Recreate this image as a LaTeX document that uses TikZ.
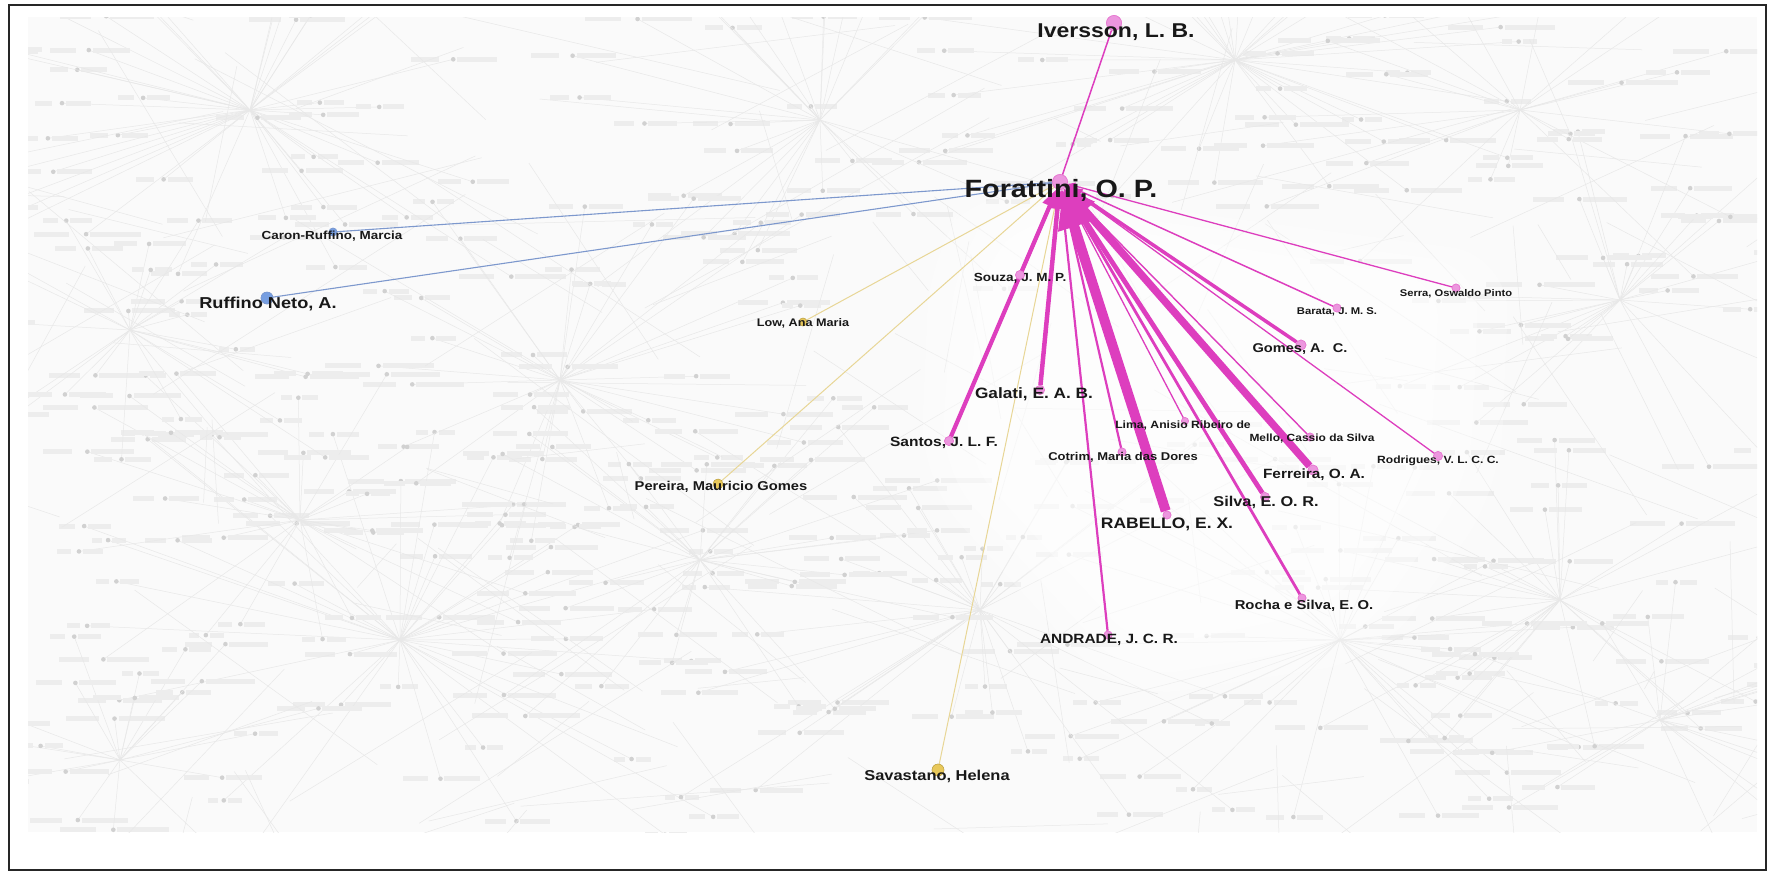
\documentclass[tikz,border=0pt]{standalone}
\usepackage{fontspec}
\newfontfamily\labfont[FakeStretch=1.15]{Liberation Sans}
\usetikzlibrary{arrows.meta}
\definecolor{pinkedge}{RGB}{221,62,190}
\definecolor{pinknode}{RGB}{236,150,222}
\definecolor{bluenode}{RGB}{118,158,225}
\definecolor{blueedge}{RGB}{125,152,205}
\definecolor{yelnode}{RGB}{232,200,90}
\definecolor{yeledge}{RGB}{232,214,150}
\definecolor{labtext}{RGB}{24,24,24}
\begin{document}
\begin{tikzpicture}[x=1pt,y=-1pt,
  vert/.style={circle,inner sep=0pt,minimum size=#1},
  pnode/.style={vert=#1,fill=pinknode,draw=pinkedge!70,line width=0.6pt},
  bnode/.style={vert=#1,fill=bluenode,draw=blueedge,line width=0.5pt},
  ynode/.style={vert=#1,fill=yelnode,draw=yelnode!80!black,line width=0.4pt},
  lab/.style={font=\labfont\bfseries\fontsize{#1}{#1}\selectfont,text=labtext,
    inner sep=0pt,text height=0.72em,text depth=0pt},
  pedge/.style={draw=pinkedge,line width=#1,-{Triangle[length=3pt 3.6,width=3pt 2.8]}},
  pline/.style={draw=pinkedge,line width=#1},
  bedge/.style={draw=blueedge,line width=1.1pt},
  yedge/.style={draw=yeledge,line width=1pt},
  bgedge/.style={draw=black!9,line width=0.5pt},
  bgdot/.style={fill=black!18},
  bgtext/.style={fill=black!7},
]
\useasboundingbox (0,0) rectangle (1773,873);
\fill[white] (0,0) rectangle (1773,873);

% faded background network
\begin{scope}
  \clip (28,17) rectangle (1757,832);
  \fill[black!2] (28,17) rectangle (1757,832);
  \pgfmathsetseed{11}
  \foreach \hx/\hy/\nn/\hr in {250/110/45/270, 1235/60/45/320, 400/640/40/320,
      820/120/30/260, 1340/640/35/280, 560/380/35/280, 300/520/30/230,
      1620/300/28/260, 980/610/35/320, 1560/600/28/260, 700/560/30/260,
      1520/110/22/260, 130/330/25/200, 1660/720/20/220, 120/760/20/200} {
    \foreach \k in {1,...,\nn} {
      \pgfmathsetmacro\px{\hx+(rnd-0.5)*2*\hr}
      \pgfmathsetmacro\py{\hy+(rnd-0.5)*1.3*\hr}
      \pgfmathsetmacro\tw{14+rnd*38}
      \draw[bgedge] (\hx,\hy) -- (\px,\py);
      \fill[bgdot] (\px,\py) circle (2.3);
      \fill[bgtext] (\px+4,\py+2.5) rectangle ++(\tw,-5);
      \fill[bgtext] (\px-\tw-2,\py+2.5) rectangle ++(\tw*0.7,-5);
    }
  }
  \foreach \k in {1,...,160} {
    \pgfmathsetmacro\ax{28+rnd*1729}
    \pgfmathsetmacro\ay{17+rnd*815}
    \pgfmathsetmacro\bx{\ax+(rnd-0.5)*700}
    \pgfmathsetmacro\by{\ay+(rnd-0.5)*420}
    \draw[bgedge] (\ax,\ay) -- (\bx,\by);
  }
  % lighter zone around the highlighted fan, built up in soft layers
  \fill[white,opacity=0.25,rounded corners=60pt] (980,185) -- (1510,255) -- (1500,490)
     -- (1380,660) -- (1120,700) -- (920,480) -- (930,250) -- cycle;
  \fill[white,opacity=0.3,rounded corners=50pt] (1000,200) -- (1480,265) -- (1470,480)
     -- (1360,640) -- (1130,680) -- (940,470) -- (955,260) -- cycle;
  \fill[white,opacity=0.35,rounded corners=40pt] (1030,215) -- (1440,280) -- (1430,470)
     -- (1330,610) -- (1140,650) -- (965,460) -- (980,270) -- cycle;
\end{scope}

% highlighted vertices
\node[pnode=15] (forat) at (1060,182) {};
\node[pnode=15] (ivers) at (1114,23) {};
\node[bnode=8]  (caron) at (333,232) {};
\node[bnode=12] (ruffn) at (267,298) {};
\node[ynode=8]  (lowam) at (803,322) {};
\node[ynode=10] (perei) at (718,484) {};
\node[ynode=12] (savas) at (938,770) {};
\node[pnode=9]  (souza) at (1020,275) {};
\node[pnode=8]  (serra) at (1456,288) {};
\node[pnode=8]  (barat) at (1337,308) {};
\node[pnode=10] (gomes) at (1301,345) {};
\node[pnode=9]  (galat) at (1040,390) {};
\node[pnode=7]  (limaa) at (1185,421) {};
\node[pnode=8]  (mello) at (1310,437) {};
\node[pnode=9]  (santo) at (949,441) {};
\node[pnode=8]  (cotri) at (1122,452) {};
\node[pnode=9]  (rodri) at (1438,456) {};
\node[pnode=10] (ferre) at (1313,470) {};
\node[pnode=9]  (silva) at (1265,497) {};
\node[pnode=8]  (rabel) at (1167,515) {};
\node[pnode=8]  (rocha) at (1302,598) {};
\node[pnode=8]  (andra) at (1108,635) {};

% connectors
\draw[bedge] (caron) -- (forat);
\draw[bedge] (ruffn) -- (forat);
\draw[yedge] (lowam) -- (forat);
\draw[yedge] (perei) -- (forat);
\draw[yedge] (savas) -- (forat);
\draw[pline=1.5] (ivers) -- (forat);
\draw[pedge=1.3] (serra) -- (forat);
\draw[pedge=1.3] (rodri) -- (forat);
\draw[pedge=1.5] (barat) -- (forat);
\draw[pedge=1.4] (mello) -- (forat);
\draw[pedge=1.3] (limaa) -- (forat);
\draw[pedge=3.5] (gomes) -- (forat);
\draw[pedge=2.2] (cotri) -- (forat);
\draw[pedge=2.2] (andra) -- (forat);
\draw[pedge=2.8] (rocha) -- (forat);
\draw[pedge=3.5] (souza) -- (forat);
\draw[pedge=4.2] (santo) -- (forat);
\draw[pedge=4.5] (galat) -- (forat);
\draw[pedge=4.8] (silva) -- (forat);
\draw[pedge=7.5] (ferre) -- (forat);
\draw[pedge=10] (rabel) -- (forat);

% redraw the vertices over their connectors
\foreach \v/\s in {forat/15,ivers/15,souza/9,serra/8,barat/8,gomes/10,galat/9,limaa/7,
    mello/8,santo/9,cotri/8,rodri/9,ferre/10,silva/9,rabel/8,rocha/8,andra/8}
  \node[pnode=\s] at (\v) {};
\node[bnode=8] at (caron) {};
\node[bnode=12] at (ruffn) {};
\node[ynode=8] at (lowam) {};
\node[ynode=10] at (perei) {};
\node[ynode=12] at (savas) {};

% labels
\node[lab=25]   (l-forat) at (1061,194) {Forattini, O. P.};
\node[lab=20]   (l-ivers) at (1116,34)  {Iversson, L. B.};
\node[lab=11.7] (l-caron) at (332,236)  {Caron-Ruffino, Marcia};
\node[lab=15.8] (l-ruffn) at (268,305)  {Ruffino Neto, A.};
\node[lab=11]   (l-lowam) at (803,323)  {Low, Ana Maria};
\node[lab=11.8] (l-souza) at (1020,278) {Souza, J. M. P.};
\node[lab=9.7]  (l-serra) at (1456,293) {Serra, Oswaldo Pinto};
\node[lab=9.8]  (l-barat) at (1337,311) {Barata, J. M. S.};
\node[lab=12.7] (l-gomes) at (1300,349) {Gomes, A.\ \ C.};
\node[lab=15]   (l-galat) at (1034,395) {Galati, E. A. B.};
\node[lab=10.6] (l-limaa) at (1183,425) {Lima, Anisio Ribeiro de};
\node[lab=10.4] (l-mello) at (1312,438) {Mello, Cassio da Silva};
\node[lab=13.5] (l-santo) at (944,443)  {Santos, J. L. F.};
\node[lab=11.3] (l-cotri) at (1123,457) {Cotrim, Maria das Dores};
\node[lab=10.5] (l-rodri) at (1438,460) {Rodrigues, V. L. C. C.};
\node[lab=13.4] (l-ferre) at (1314,475) {Ferreira, O. A.};
\node[lab=12.8] (l-perei) at (721,487)  {Pereira, Mauricio Gomes};
\node[lab=14.2] (l-silva) at (1266,503) {Silva, E. O. R.};
\node[lab=15.2] (l-rabel) at (1167,525) {RABELLO, E. X.};
\node[lab=12.9] (l-rocha) at (1304,606) {Rocha e Silva, E. O.};
\node[lab=13.4] (l-andra) at (1109,640) {ANDRADE, J. C. R.};
\node[lab=14.3] (l-savas) at (937,777)  {Savastano, Helena};

% frame
\draw[line width=2pt,black!85] (9,5) rectangle (1766,870);
\end{tikzpicture}
\end{document}
